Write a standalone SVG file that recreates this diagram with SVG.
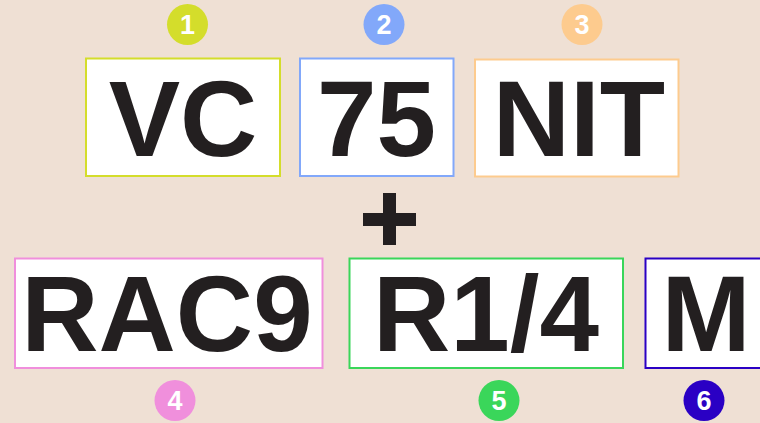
<svg xmlns="http://www.w3.org/2000/svg" width="760" height="423" viewBox="0 0 760 423">
<style>
.box{fill:#ffffff;stroke-width:2}
.big{font-family:"Liberation Sans",Arial,sans-serif;font-weight:bold;font-size:107px;fill:#231f20;text-anchor:middle}
.num{font-family:"Liberation Sans",Arial,sans-serif;font-weight:bold;font-size:27px;fill:#ffffff;text-anchor:middle}
</style>
<rect width="760" height="423" fill="#efe0d4"/>
<g id="node1">
<rect class="box" x="86" y="58.5" width="194" height="117.5" stroke="#d4dd2b"/>
<text class="big" x="183" y="156">VC</text>
<circle cx="187.5" cy="24.5" r="20.5" fill="#d4dd2b"/>
<text class="num" x="187.5" y="34">1</text>
</g>
<g id="node2">
<rect class="box" x="300" y="58.5" width="153.5" height="117.5" stroke="#82a8fa"/>
<text class="big" x="376.5" y="156">75</text>
<circle cx="384" cy="24.5" r="20.5" fill="#82a8fa"/>
<text class="num" x="384" y="34">2</text>
</g>
<g id="node3">
<rect class="box" x="475" y="59.5" width="203.5" height="117" stroke="#fdcb8e"/>
<text class="big" x="579" y="156">NIT</text>
<circle cx="582" cy="24.5" r="20.5" fill="#fdcb8e"/>
<text class="num" x="582" y="34">3</text>
</g>
<g id="connectors">
<rect x="363" y="213" width="53" height="13" fill="#231f20"/>
<rect x="383" y="193" width="13" height="52" fill="#231f20"/>
</g>
<g id="node4">
<rect class="box" x="15" y="258.5" width="307.5" height="109.5" stroke="#f08fdc"/>
<text class="big" x="167" y="351">RAC9</text>
<circle cx="175" cy="400.5" r="20.5" fill="#f08fdc"/>
<text class="num" x="175" y="410">4</text>
</g>
<g id="node5">
<rect class="box" x="349.5" y="258.5" width="273.5" height="109.5" stroke="#3ad65a"/>
<text class="big" x="486" y="351">R1/4</text>
<circle cx="499" cy="400.5" r="20.5" fill="#3ad65a"/>
<text class="num" x="499" y="410">5</text>
</g>
<g id="node6">
<rect class="box" x="645.5" y="258.5" width="130" height="109.5" stroke="#2a00c4"/>
<text class="big" x="706" y="351">M</text>
<circle cx="704" cy="400.5" r="20.5" fill="#2a00c4"/>
<text class="num" x="704" y="410">6</text>
</g>
</svg>
